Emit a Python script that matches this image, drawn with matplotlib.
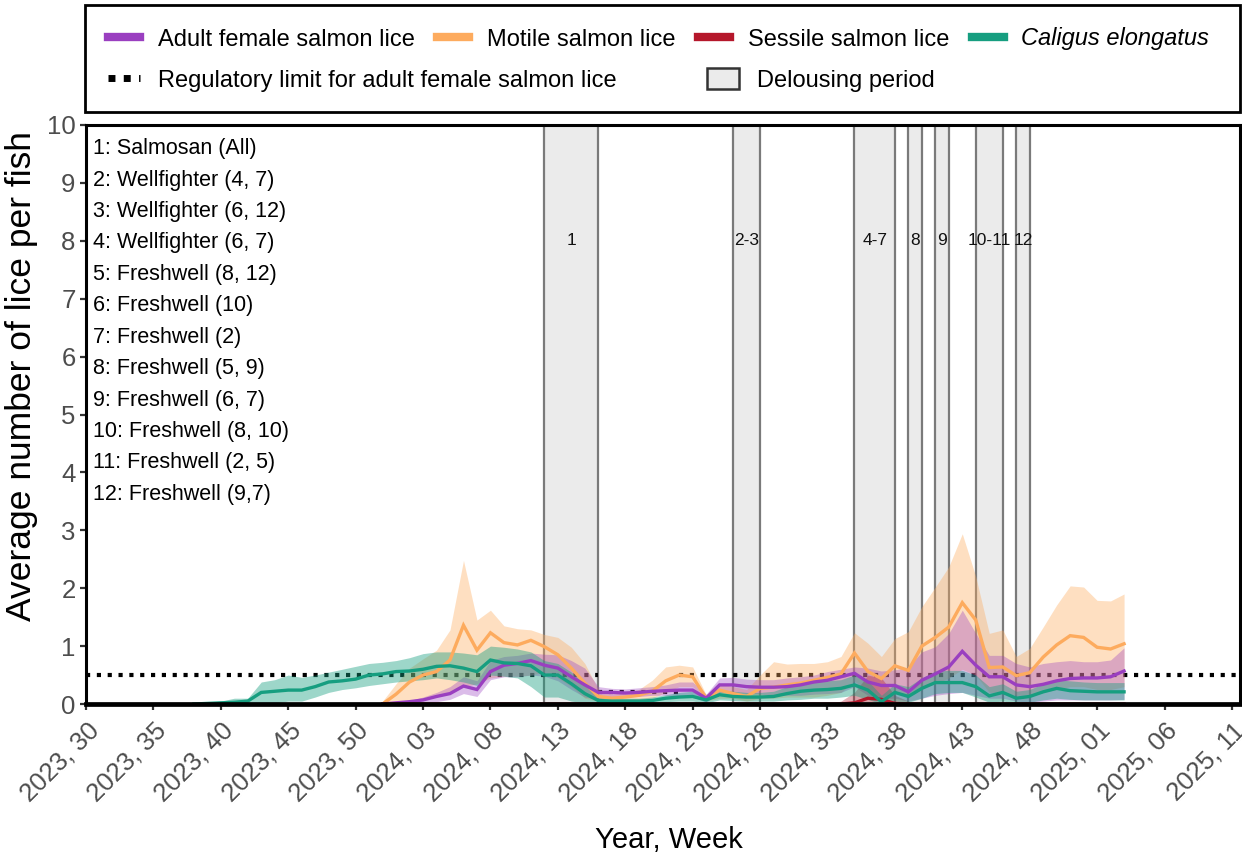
import numpy as np
import matplotlib
matplotlib.use("Agg")
import matplotlib.pyplot as plt
from matplotlib.lines import Line2D
from matplotlib.patches import Patch, Rectangle
from matplotlib.transforms import ScaledTranslation

plt.rcParams['font.family'] = ['Liberation Sans', 'DejaVu Sans']

# x positions are weeks counted from 2023 week 30
tick_weeks = list(range(0, 86, 5))
tick_labels = ["2023, 30", "2023, 35", "2023, 40", "2023, 45", "2023, 50",
               "2024, 03", "2024, 08", "2024, 13", "2024, 18", "2024, 23",
               "2024, 28", "2024, 33", "2024, 38", "2024, 43", "2024, 48",
               "2025, 01", "2025, 06", "2025, 11"]

# Caligus elongatus (from week index 8)
caligus_start = 8
caligus_mean = [0.00, 0.01, 0.02, 0.03, 0.05,
                0.20, 0.22, 0.24, 0.24, 0.30, 0.38, 0.40, 0.43, 0.50, 0.52,
                0.56, 0.57, 0.60, 0.65, 0.66, 0.62, 0.56, 0.76, 0.71, 0.70, 0.66, 0.50, 0.50, 0.35, 0.18, 0.06,
                0.05, 0.05, 0.05, 0.06, 0.10, 0.12, 0.13, 0.07, 0.16, 0.13, 0.12, 0.12, 0.13, 0.18, 0.22, 0.24,
                0.25, 0.27, 0.33, 0.24, 0.04, 0.20, 0.13, 0.27, 0.37, 0.37, 0.37, 0.30, 0.14, 0.20, 0.10, 0.13,
                0.21, 0.27, 0.23, 0.22, 0.21, 0.21, 0.21]
caligus_lo = [0.00, 0.00, 0.00, 0.00, 0.00,
              0.00, 0.02, 0.05, 0.05, 0.12, 0.20, 0.25, 0.28, 0.32, 0.35,
              0.38, 0.40, 0.42, 0.45, 0.42, 0.38, 0.32, 0.50, 0.48, 0.45, 0.30, 0.12, 0.12, 0.05, 0.02, 0.00,
              0.01, 0.01, 0.01, 0.02, 0.04, 0.05, 0.05, 0.02, 0.07, 0.06, 0.05, 0.05, 0.05, 0.07, 0.08, 0.10,
              0.10, 0.12, 0.15, 0.08, 0.00, 0.05, 0.03, 0.10, 0.18, 0.20, 0.20, 0.12, 0.03, 0.05, 0.02, 0.03,
              0.07, 0.10, 0.08, 0.07, 0.07, 0.07, 0.07]
caligus_hi = [0.02, 0.03, 0.05, 0.10, 0.10,
              0.38, 0.42, 0.50, 0.46, 0.50, 0.55, 0.60, 0.65, 0.70, 0.72,
              0.75, 0.80, 0.87, 0.90, 0.90, 0.88, 0.85, 1.00, 0.98, 0.95, 0.90, 0.75, 0.70, 0.55, 0.35, 0.15,
              0.10, 0.10, 0.10, 0.12, 0.16, 0.20, 0.22, 0.12, 0.25, 0.22, 0.20, 0.20, 0.22, 0.30, 0.35, 0.38,
              0.40, 0.42, 0.50, 0.40, 0.15, 0.35, 0.30, 0.45, 0.57, 0.58, 0.58, 0.50, 0.30, 0.35, 0.22, 0.25,
              0.35, 0.42, 0.40, 0.38, 0.37, 0.37, 0.37]

# Salmon lice stages (from week index 22)
lice_start = 22
motile_mean = [0.00, 0.17, 0.38, 0.50, 0.56, 0.76, 1.36, 0.93, 1.23, 1.06, 1.02, 1.10, 0.99, 0.85, 0.62, 0.36, 0.13,
               0.10, 0.12, 0.15, 0.22, 0.40, 0.50, 0.47, 0.10, 0.24, 0.18, 0.13, 0.27, 0.29, 0.33, 0.36, 0.41,
               0.46, 0.52, 0.88, 0.56, 0.44, 0.66, 0.58, 1.00, 1.15, 1.33, 1.75, 1.45, 0.63, 0.64, 0.49, 0.54,
               0.81, 1.02, 1.18, 1.15, 0.98, 0.95, 1.04]
motile_lo = [0.00, 0.00, 0.05, 0.10, 0.15, 0.20, 0.30, 0.35, 0.45, 0.48, 0.48, 0.50, 0.55, 0.45, 0.30, 0.10, 0.05,
             0.05, 0.05, 0.08, 0.10, 0.20, 0.30, 0.30, 0.05, 0.10, 0.10, 0.05, 0.10, 0.10, 0.12, 0.12, 0.12,
             0.15, 0.20, 0.40, 0.20, 0.10, 0.20, 0.15, 0.30, 0.35, 0.45, 0.60, 0.50, 0.20, 0.20, 0.15, 0.15,
             0.20, 0.25, 0.30, 0.30, 0.25, 0.25, 0.30]
motile_hi = [0.05, 0.35, 0.62, 0.78, 0.93, 1.28, 2.48, 1.45, 1.62, 1.35, 1.30, 1.28, 1.20, 1.15, 0.98, 0.70, 0.25,
             0.17, 0.20, 0.25, 0.41, 0.64, 0.67, 0.64, 0.16, 0.35, 0.30, 0.25, 0.50, 0.73, 0.69, 0.70, 0.70,
             0.73, 0.82, 1.23, 1.05, 0.82, 1.13, 1.25, 1.68, 2.02, 2.37, 2.94, 2.20, 1.22, 1.28, 0.82, 0.96,
             1.33, 1.71, 2.04, 2.02, 1.79, 1.78, 1.90]

adult_female_mean = [0.00, 0.02, 0.04, 0.07, 0.13, 0.18, 0.31, 0.25, 0.56, 0.67, 0.70, 0.75, 0.67, 0.62, 0.47, 0.33, 0.20,
                     0.20, 0.19, 0.20, 0.22, 0.23, 0.24, 0.24, 0.10, 0.33, 0.33, 0.30, 0.29, 0.29, 0.30, 0.33, 0.38,
                     0.41, 0.47, 0.53, 0.38, 0.32, 0.32, 0.21, 0.41, 0.52, 0.64, 0.91, 0.67, 0.47, 0.47, 0.33, 0.30,
                     0.34, 0.40, 0.44, 0.45, 0.45, 0.47, 0.57]
adult_female_lo = [0.00, 0.00, 0.00, 0.02, 0.04, 0.08, 0.18, 0.13, 0.42, 0.47, 0.47, 0.50, 0.48, 0.40, 0.25, 0.12, 0.08,
                   0.12, 0.12, 0.13, 0.15, 0.15, 0.12, 0.12, 0.03, 0.20, 0.20, 0.18, 0.17, 0.15, 0.15, 0.15, 0.17,
                   0.18, 0.20, 0.30, 0.15, 0.10, 0.10, 0.05, 0.10, 0.15, 0.18, 0.20, 0.15, 0.10, 0.10, 0.05, 0.03,
                   0.05, 0.07, 0.07, 0.07, 0.07, 0.07, 0.08]
adult_female_hi = [0.00, 0.03, 0.06, 0.12, 0.20, 0.30, 0.47, 0.40, 0.75, 0.82, 0.84, 0.88, 0.86, 0.85, 0.75, 0.62, 0.30,
                   0.27, 0.26, 0.28, 0.30, 0.33, 0.38, 0.38, 0.17, 0.45, 0.46, 0.43, 0.42, 0.42, 0.45, 0.47, 0.50,
                   0.56, 0.60, 0.64, 0.62, 0.57, 0.59, 0.64, 0.90, 0.99, 1.22, 1.62, 1.22, 0.84, 0.84, 0.70, 0.64,
                   0.70, 0.73, 0.75, 0.73, 0.73, 0.76, 0.97]

sessile_mean = [0.00] * 35 + [0.02, 0.10, 0.08, 0.01] + [0.00] * 17
sessile_lo = [0.00] * 56
sessile_hi = [0.00] * 34 + [0.05, 0.20, 0.50, 0.45, 0.15, 0.05] + [0.00] * 16

# Regulatory limit for adult female lice (lower in spring)
limit_from = [0, 38, 44]
limit_to = [38, 44, 85.6]
limit_value = [0.5, 0.2, 0.5]

# Delousing periods
delouse_start = [34, 48, 57, 61, 63, 66, 69]
delouse_end = [38, 50, 60, 62, 64, 68, 70]
delouse_label = ["1", "2-3", "4-7", "8", "9", "10-11", "12"]

treatments = ["1: Salmosan (All)", "2: Wellfighter (4, 7)", "3: Wellfighter (6, 12)",
              "4: Wellfighter (6, 7)", "5: Freshwell (8, 12)", "6: Freshwell (10)",
              "7: Freshwell (2)", "8: Freshwell (5, 9)", "9: Freshwell (6, 7)",
              "10: Freshwell (8, 10)", "11: Freshwell (2, 5)", "12: Freshwell (9,7)"]

c_purple = "#9a3fc0"
c_orange = "#fdab5e"
c_red = "#b5172b"
c_teal = "#169e80"

W, H = 1242, 861
fig = plt.figure(figsize=(W / 100, H / 100), dpi=100)
ax = fig.add_axes([86 / W, 1 - 704 / H, (1240 - 86) / W, (704 - 125) / H])

# delousing bands
for s, e, lab in zip(delouse_start, delouse_end, delouse_label):
    ax.axvspan(s, e, facecolor="#ebebeb", edgecolor="#7a7a7a", linewidth=1.6, zorder=1)
    ax.text((s + e) / 2, 8, lab, ha="center", va="center", fontsize=12.5, color="#111111", zorder=6)

# regulatory limit
for a, b, v in zip(limit_from, limit_to, limit_value):
    ax.plot([a, b], [v, v], color="black", linewidth=3.0, linestyle=(0, (1, 1.6)),
            solid_capstyle="butt", dash_capstyle="butt", zorder=1.5)

x_lice = np.arange(lice_start, lice_start + len(motile_mean))
x_cal = np.arange(caligus_start, caligus_start + len(caligus_mean))

series = [
    (x_lice, motile_mean, motile_lo, motile_hi, c_orange, 0.38),
    (x_lice, adult_female_mean, adult_female_lo, adult_female_hi, c_purple, 0.35),
    (x_lice, sessile_mean, sessile_lo, sessile_hi, c_red, 0.35),
    (x_cal, caligus_mean, caligus_lo, caligus_hi, c_teal, 0.42),
]
for x, m, lo, hi, col, al in series:
    ax.fill_between(x, lo, hi, color=col, alpha=al, linewidth=0, zorder=2)
for x, m, lo, hi, col, al in series:
    ax.plot(x, m, color=col, linewidth=2.4, zorder=3, solid_joinstyle="miter")

# treatment key
for k, t in enumerate(treatments):
    ax.text(0.006, 9.59 - k * 0.5425, t, ha="left", va="center", fontsize=15.5,
            color="black", transform=ax.get_yaxis_transform(), zorder=6)

ax.set_xlim(0, 85.6)
ax.set_ylim(0, 10)
ax.set_xticks(tick_weeks)
ax.set_xticklabels(tick_labels)
ax.set_yticks(range(0, 11))
for sp in ax.spines.values():
    sp.set_linewidth(2.2)
    sp.set_color("black")
    sp.set_zorder(5)
ax.spines["bottom"].set_linewidth(3.4)
ax.tick_params(direction="out", length=4.5, width=1.6, color="#333333",
               labelcolor="#4d4d4d", labelsize=18.5)
ax.tick_params(axis="y", pad=3)
ax.tick_params(axis="x", pad=12)
off = ScaledTranslation(9 / 100, 0, fig.dpi_scale_trans)
for lbl in ax.get_xticklabels():
    lbl.set_rotation(45)
    lbl.set_ha("right")
    lbl.set_va("center")
    lbl.set_rotation_mode("anchor")
    lbl.set_transform(lbl.get_transform() + off)

ax.set_xlabel("Year, Week", fontsize=21, color="black")
ax.set_ylabel("Average number of lice per fish", fontsize=25.5, color="black")
ax.xaxis.set_label_coords(0.505, (704 - 826) / 579)
ax.yaxis.set_label_coords((38 - 86) / 1154, (704 - 376) / 579)

# legend
fs = 17
row1 = [Line2D([], [], color=c_purple, linewidth=6),
        Line2D([], [], color=c_orange, linewidth=6),
        Line2D([], [], color=c_red, linewidth=6),
        Line2D([], [], color=c_teal, linewidth=6)]
leg1 = fig.legend(row1, ["Adult female salmon lice", "Motile salmon lice",
                         "Sessile salmon lice", "Caligus elongatus"],
                  loc="center left", bbox_to_anchor=(108 / W, 1 - 39 / H), ncol=4,
                  frameon=False, fontsize=fs, borderpad=0, borderaxespad=0,
                  handlelength=1.36, handletextpad=0.75, columnspacing=0.95)
leg1.get_texts()[3].set_style("italic")
row2 = [Line2D([], [], color="black", linewidth=5, linestyle=(0, (1, 1.2)),
               dash_capstyle="butt"),
        Patch(facecolor="#ebebeb", edgecolor="#333333", linewidth=1.8)]
leg2 = fig.legend(row2, ["Regulatory limit for adult female salmon lice", "Delousing period"],
                  loc="center left", bbox_to_anchor=(108 / W, 1 - 80 / H), ncol=2,
                  frameon=False, fontsize=fs, borderpad=0, borderaxespad=0,
                  handlelength=1.36, handleheight=1.0, handletextpad=0.75, columnspacing=3.85)
fig.add_artist(Rectangle((85 / W, 1 - 112 / H), (1240 - 85) / W, (112 - 5) / H,
                         transform=fig.transFigure, fill=False, edgecolor="black",
                         linewidth=2.0))

fig.savefig("out.png", dpi=100, facecolor="white")
